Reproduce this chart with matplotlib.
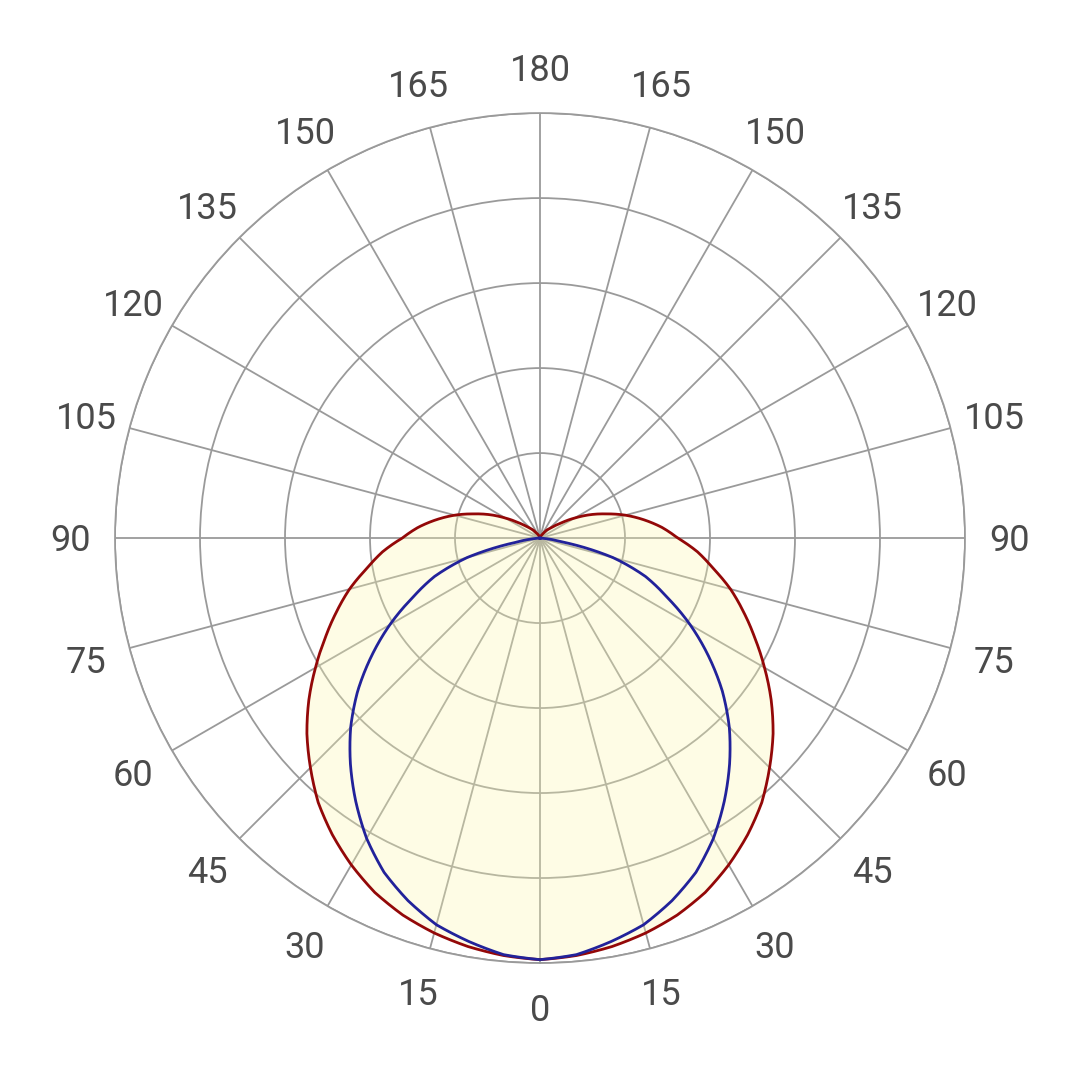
"""Кривая силы света (КСС) в полярных координатах: две плоскости C0/C90."""

import numpy as np
import matplotlib
matplotlib.use("Agg")
import matplotlib.pyplot as plt  # noqa: E402
from matplotlib.transforms import offset_copy  # noqa: E402

# Углы (градусы от надира) и сила света, кд (внешнее кольцо = 500)
blue_angles = [0, 5, 10, 15, 20, 25, 30, 35, 40, 45, 50, 55, 60, 65, 70, 75, 80, 85, 90]
blue_values = [496, 492, 482, 471, 454, 434, 408, 378, 347, 315, 280, 242, 204, 165,
               132, 89, 29, 4, 0]

red_angles = [0, 5, 10, 15, 20, 25, 30, 35, 40, 45, 50, 55, 60, 65, 70, 75, 80, 85, 90,
              95, 100, 105, 110, 115, 120, 125, 130, 135, 140, 145, 150, 160, 170, 180]
red_values = [496, 493, 488, 481, 472, 460, 444, 426, 406, 382, 358, 332, 305, 279, 255,
              232, 207, 186, 162, 144, 124, 104, 83, 65, 47, 32, 22, 16, 12, 7, 5, 2, 1, 0]

ring_values = [100, 200, 300, 400, 500]
label_angles = list(range(0, 181, 15))

GRID = "#9a9a9a"
TEXT = "#4a4a4a"
RED = "#930808"
BLUE = "#22229a"
FILL = (252 / 255, 248 / 255, 174 / 255)


def mirrored(angles, values):
    """Кривая симметрична: строим от -180 до 180 через надир."""
    a = np.radians(angles)
    v = np.asarray(values, dtype=float)
    th = np.concatenate([-a[::-1], a[1:]])
    r = np.concatenate([v[::-1], v[1:]])
    return th, r


fig = plt.figure(figsize=(10.8, 10.8), dpi=100)
ax = fig.add_axes([0.1065, 0.1083, 0.787, 0.787], projection="polar")
ax.set_theta_zero_location("S")
ax.set_ylim(0, 500)

ax.set_xticks(np.radians(np.arange(0, 360, 15)))
ax.set_xticklabels([])
ax.set_yticks(ring_values)
ax.set_yticklabels([])
ax.grid(True, color=GRID, linewidth=1.3)
ax.spines["polar"].set_color(GRID)
ax.spines["polar"].set_linewidth(1.3)
ax.set_axisbelow(True)

th_r, r_r = mirrored(red_angles, red_values)
th_b, r_b = mirrored(blue_angles, blue_values)

fill = ax.fill(th_r, r_r, color=FILL, alpha=0.31, zorder=3, linewidth=0)[0]
fill.get_path()._interpolation_steps = 20
for th, r, c in [(th_r, r_r, RED), (th_b, r_b, BLUE)]:
    line, = ax.plot(th, r, color=c, linewidth=2.0, zorder=5)
    line.get_path()._interpolation_steps = 20  # дуги между узлами, а не хорды

label_r = 500 * 470 / 425
text_tr = offset_copy(ax.transData, fig=fig, x=0, y=-3, units="dots")
for a in label_angles:
    sides = [a] if a in (0, 180) else [a, -a]
    for s in sides:
        ax.text(np.radians(s), label_r, str(a), ha="center", va="center",
                fontsize=26, color=TEXT, family=["Roboto", "DejaVu Sans"],
                transform=text_tr, clip_on=False)

fig.savefig("out.png", dpi=100, facecolor="white")
